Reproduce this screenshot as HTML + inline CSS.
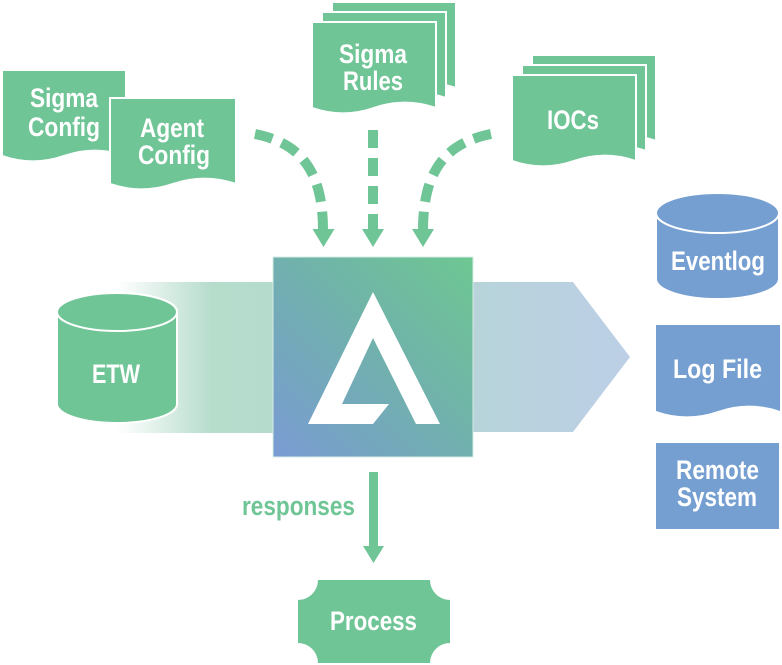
<!DOCTYPE html>
<html><head><meta charset="utf-8"><style>
html,body{margin:0;padding:0;background:#fff;}
svg{display:block;}
text{font-family:"Liberation Sans",Arial,sans-serif;font-weight:bold;font-size:26.5px;fill:#fff;}
</style></head><body>
<svg width="782" height="665" viewBox="0 0 782 665" xmlns="http://www.w3.org/2000/svg">
<defs>
<linearGradient id="lb" gradientUnits="userSpaceOnUse" x1="100" y1="0" x2="273" y2="0">
<stop offset="0" stop-color="#ffffff"/>
<stop offset="0.1" stop-color="#ffffff"/>
<stop offset="0.65" stop-color="#b6dccc"/>
<stop offset="1" stop-color="#b4dbcb"/>
</linearGradient>
<linearGradient id="rb" gradientUnits="userSpaceOnUse" x1="473" y1="0" x2="630" y2="0">
<stop offset="0" stop-color="#b8d4da"/>
<stop offset="1" stop-color="#bccfe6"/>
</linearGradient>
<linearGradient id="cb" x1="0" y1="1" x2="1" y2="0">
<stop offset="0" stop-color="#7a9bd4"/>
<stop offset="0.5" stop-color="#71b0ae"/>
<stop offset="1" stop-color="#6ec791"/>
</linearGradient>
</defs>

<!-- side bands -->
<rect x="100" y="282" width="174" height="151" fill="url(#lb)"/>
<polygon points="472,282 573,282 630,357 573,432 472,432" fill="url(#rb)"/>

<!-- center box -->
<rect x="273" y="257" width="200" height="200" fill="url(#cb)" stroke="#d6ece4" stroke-width="1"/>
<path d="M373,292 L440,424 L416,424 L373,338 L342,404 L389,404 L373,424 L308,424 Z" fill="#fff"/>

<!-- ETW cylinder -->
<path d="M57,312 V404 A60,19 0 0 0 177,404 V312 A60,19 0 0 0 57,312 Z" fill="#6fc596" stroke="#fff" stroke-width="2"/>
<ellipse cx="117" cy="312" rx="60" ry="19" fill="#6fc596" stroke="#fff" stroke-width="2"/>
<text x="92" y="383" textLength="48" lengthAdjust="spacingAndGlyphs">ETW</text>

<!-- Sigma Config -->
<path d="M2,70 H126 V156 Q95,145.2 64,156 Q33,166.8 2,156 Z" fill="#6fc596" stroke="#fff" stroke-width="2"/>
<text x="30" y="107" textLength="68" lengthAdjust="spacingAndGlyphs">Sigma</text>
<text x="28" y="136" textLength="72" lengthAdjust="spacingAndGlyphs">Config</text>

<!-- Agent Config -->
<path d="M110,98 H236 V184 Q204.5,173.2 173,184 Q141.5,194.8 110,184 Z" fill="#6fc596" stroke="#fff" stroke-width="2"/>
<text x="140" y="137" textLength="64" lengthAdjust="spacingAndGlyphs">Agent</text>
<text x="138" y="164" textLength="72" lengthAdjust="spacingAndGlyphs">Config</text>

<!-- Sigma Rules stack -->
<path d="M332,2 H456 V88 Q425,77.2 394,88 Q363,98.8 332,88 Z" fill="#6fc596" stroke="#fff" stroke-width="2"/>
<path d="M322,12 H446 V98 Q415,87.2 384,98 Q353,108.8 322,98 Z" fill="#6fc596" stroke="#fff" stroke-width="2"/>
<path d="M312,22 H436 V108 Q405,97.2 374,108 Q343,118.8 312,108 Z" fill="#6fc596" stroke="#fff" stroke-width="2"/>
<text x="339" y="63" textLength="68" lengthAdjust="spacingAndGlyphs">Sigma</text>
<text x="343" y="90" textLength="60" lengthAdjust="spacingAndGlyphs">Rules</text>

<!-- IOCs stack -->
<path d="M532,55 H656 V141 Q625,130.2 594,141 Q563,151.8 532,141 Z" fill="#6fc596" stroke="#fff" stroke-width="2"/>
<path d="M522,65 H646 V151 Q615,140.2 584,151 Q553,161.8 522,151 Z" fill="#6fc596" stroke="#fff" stroke-width="2"/>
<path d="M512,75 H636 V161 Q605,150.2 574,161 Q543,171.8 512,161 Z" fill="#6fc596" stroke="#fff" stroke-width="2"/>
<text x="547" y="129" textLength="52" lengthAdjust="spacingAndGlyphs">IOCs</text>

<!-- dashed arrows -->
<g fill="none" stroke="#6fc596" stroke-width="10" stroke-dasharray="18 10">
<line x1="373" y1="130" x2="373" y2="230"/>
<path d="M255,134 C295,142 323,165 323,230"/>
<path d="M491,134 C451,142 423,165 423,230"/>
</g>
<g fill="#6fc596">
<polygon points="312.5,229 334.5,229 323.5,247"/>
<polygon points="362,229 384,229 373,247"/>
<polygon points="412,229 434,229 423,247"/>
</g>

<!-- Eventlog cylinder -->
<path d="M656,213 V279 A61.5,20 0 0 0 779,279 V213 A61.5,20 0 0 0 656,213 Z" fill="#759fd1" stroke="#fff" stroke-width="2"/>
<ellipse cx="717.5" cy="213" rx="61.5" ry="20" fill="#759fd1" stroke="#fff" stroke-width="2"/>
<text x="671" y="270" textLength="94" lengthAdjust="spacingAndGlyphs">Eventlog</text>

<!-- Log File -->
<path d="M656,325 H780 V411 Q749,400.2 718,411 Q687,421.8 656,411 Z" fill="#759fd1"/>
<text x="673" y="378" textLength="89" lengthAdjust="spacingAndGlyphs">Log File</text>

<!-- Remote System -->
<rect x="656" y="443" width="123" height="86" fill="#759fd1"/>
<text x="676" y="479" textLength="83" lengthAdjust="spacingAndGlyphs">Remote</text>
<text x="677" y="506" textLength="80" lengthAdjust="spacingAndGlyphs">System</text>

<!-- responses arrow -->
<rect x="369" y="472" width="9" height="75" fill="#6fc596"/>
<polygon points="363,546 384,546 373.5,563" fill="#6fc596"/>
<text x="242" y="515" textLength="113" lengthAdjust="spacingAndGlyphs" style="fill:#6fc596">responses</text>

<!-- Process -->
<path d="M318,580 H430 A20,20 0 0 0 450,600 V643 A20,20 0 0 0 430,663 H318 A20,20 0 0 0 298,643 V600 A20,20 0 0 0 318,580 Z" fill="#6fc596"/>
<text x="330" y="630" textLength="87" lengthAdjust="spacingAndGlyphs">Process</text>
</svg>
</body></html>
